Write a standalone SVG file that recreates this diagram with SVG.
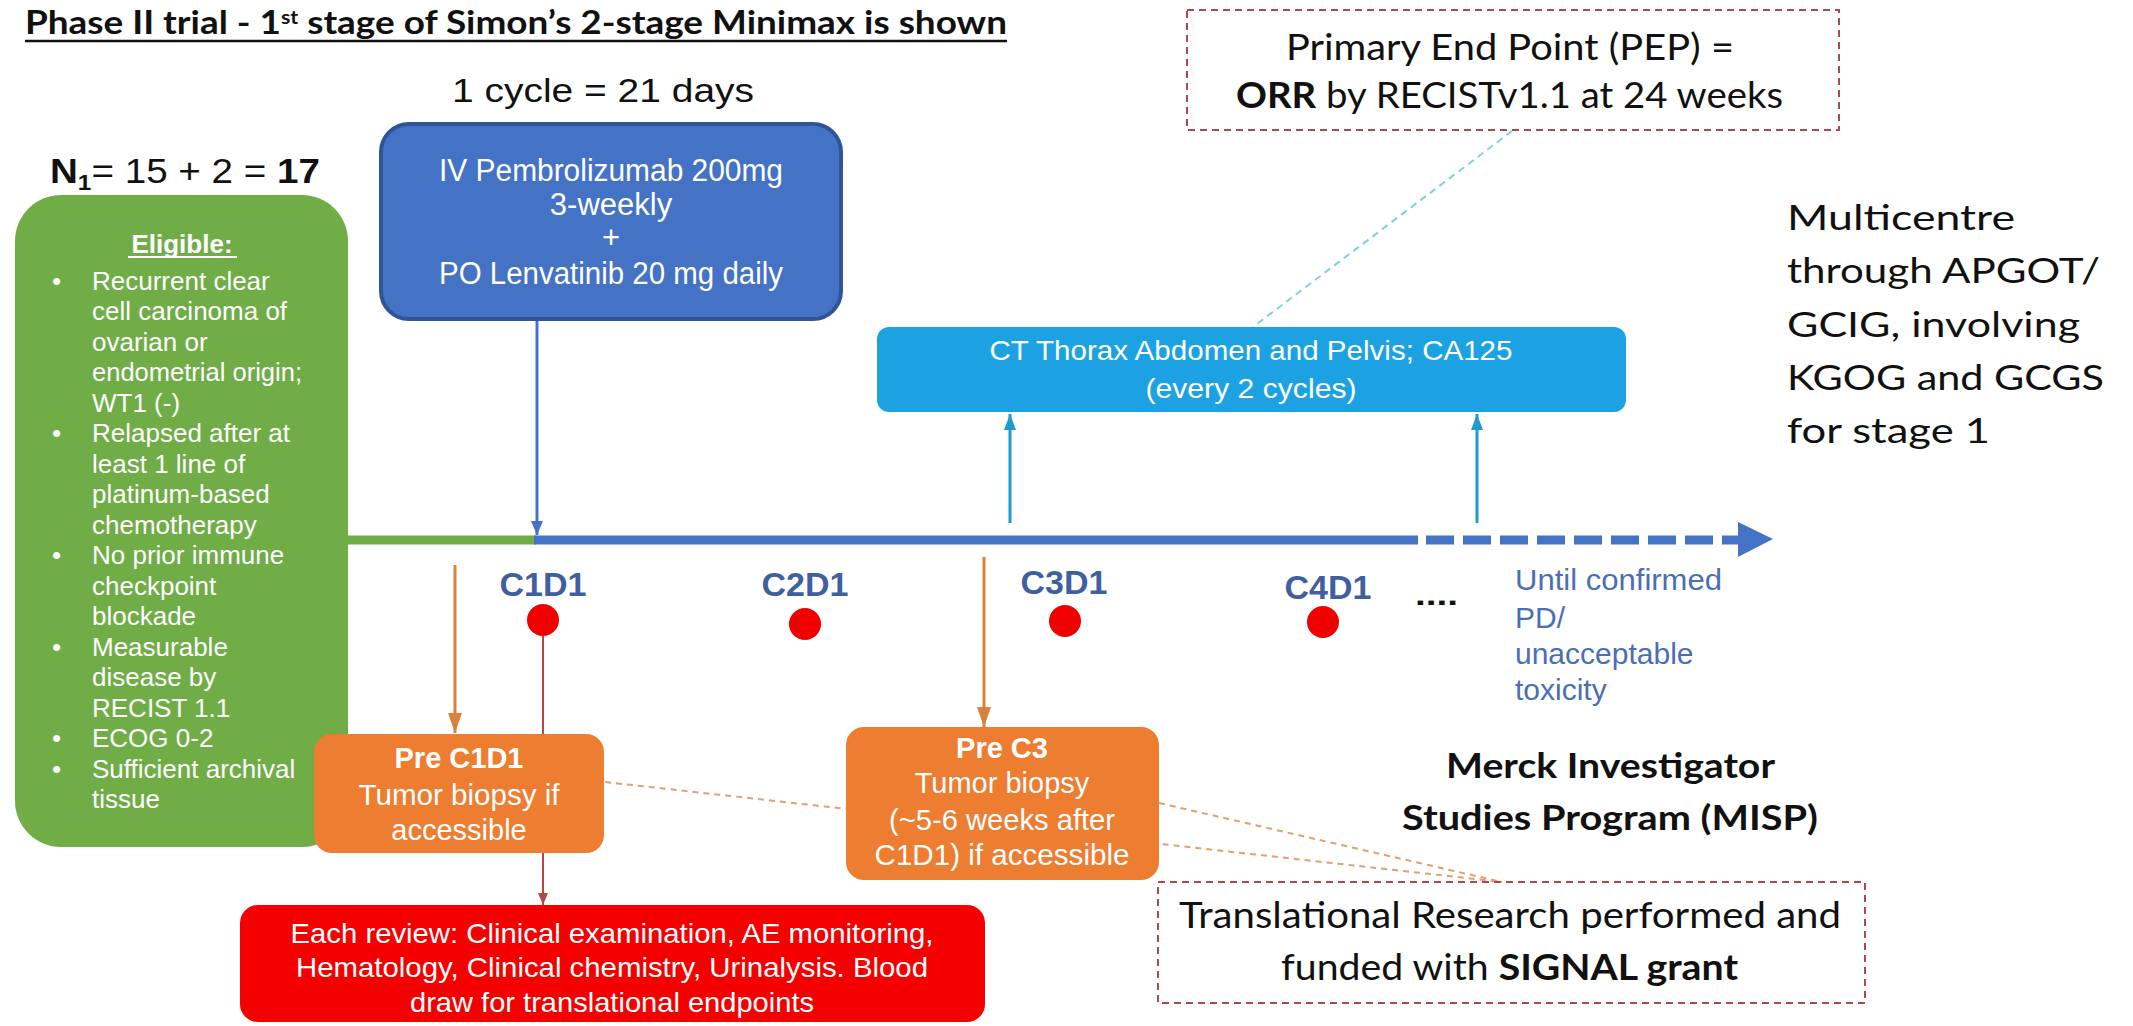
<svg xmlns="http://www.w3.org/2000/svg" width="2133" height="1026" viewBox="0 0 2133 1026">
<style>
.a{font-family:"Liberation Sans",Arial,sans-serif}
.c{font-family:Lato,"Liberation Sans",sans-serif}
.w{fill:#ffffff}
.k{fill:#111111}
.b{font-weight:bold}
.lbl{font-family:"Liberation Sans",Arial,sans-serif;font-weight:bold;font-size:34px;fill:#3F5FA0;text-anchor:middle}
.mid{text-anchor:middle}
.elig{font-family:"Liberation Sans",Arial,sans-serif;font-size:26px;fill:#ffffff}
.dash{fill:none;stroke:#A84A4A;stroke-width:2;stroke-dasharray:7 5}
</style>
<defs>
<marker id="mBlue" markerUnits="userSpaceOnUse" markerWidth="16" markerHeight="16" refX="14" refY="8" orient="auto"><path d="M0,2 L14,8 L0,14 Z" fill="#4472C4"/></marker>
<marker id="mOrange" markerUnits="userSpaceOnUse" markerWidth="22" markerHeight="18" refX="20" refY="9" orient="auto"><path d="M0,2 L20,9 L0,16 Z" fill="#D9823B"/></marker>
<marker id="mCyan" markerUnits="userSpaceOnUse" markerWidth="18" markerHeight="16" refX="16" refY="8" orient="auto"><path d="M0,2 L16,8 L0,14 Z" fill="#1F9BD1"/></marker>
<marker id="mRed" markerUnits="userSpaceOnUse" markerWidth="14" markerHeight="12" refX="12" refY="6" orient="auto"><path d="M0,1 L12,6 L0,11 Z" fill="#B5474A"/></marker>
</defs>
<rect x="0" y="0" width="2133" height="1026" fill="#ffffff"/>

<g id="title">
<text class="c b k" x="25" y="34" font-size="33" textLength="982" lengthAdjust="spacingAndGlyphs">Phase II trial - 1<tspan font-size="19" dy="-10">st</tspan><tspan dy="10"> stage of Simon’s 2-stage Minimax is shown</tspan></text>
<line x1="25" y1="41" x2="1007" y2="41" stroke="#111" stroke-width="2.5"/>
</g>

<g id="connectors">
<line x1="605" y1="782" x2="1502" y2="882" stroke="#E0A070" stroke-width="2" stroke-dasharray="6 5"/>
<line x1="1159" y1="803" x2="1502" y2="882" stroke="#E0A070" stroke-width="2" stroke-dasharray="6 5"/>
<line x1="1512" y1="131" x2="1253" y2="327" stroke="#7FD0E6" stroke-width="2" stroke-dasharray="7 5"/>
<line x1="347" y1="540" x2="536" y2="540" stroke="#70AD47" stroke-width="9"/>
<line x1="534" y1="540" x2="1418" y2="540" stroke="#4472C4" stroke-width="9"/>
<line x1="1426" y1="540" x2="1738" y2="540" stroke="#4472C4" stroke-width="9" stroke-dasharray="28 9"/>
<path d="M1738,522 L1773,539 L1738,557 Z" fill="#4472C4"/>
<line x1="537" y1="320" x2="537" y2="535" stroke="#4472C4" stroke-width="3" marker-end="url(#mBlue)"/>
<line x1="455" y1="565" x2="455" y2="733" stroke="#D9823B" stroke-width="3" marker-end="url(#mOrange)"/>
<line x1="984" y1="557" x2="984" y2="727" stroke="#D9823B" stroke-width="3" marker-end="url(#mOrange)"/>
<line x1="543" y1="630" x2="543" y2="905" stroke="#B5474A" stroke-width="2" marker-end="url(#mRed)"/>
<line x1="1010" y1="523" x2="1010" y2="414" stroke="#1F9BD1" stroke-width="3" marker-end="url(#mCyan)"/>
<line x1="1477" y1="523" x2="1477" y2="414" stroke="#1F9BD1" stroke-width="3" marker-end="url(#mCyan)"/>
</g>

<g id="n1">
<text class="a k" x="50" y="183" font-size="35" textLength="270" lengthAdjust="spacingAndGlyphs"><tspan font-weight="bold">N</tspan><tspan font-weight="bold" font-size="22" dy="7">1</tspan><tspan dy="-7">= 15 + 2 = </tspan><tspan font-weight="bold">17</tspan></text>
</g>

<g id="cycle">
<text class="a k" x="452" y="102" font-size="33" textLength="302" lengthAdjust="spacingAndGlyphs">1 cycle = 21 days</text>
</g>

<g id="eligible">
<rect x="15" y="195" width="333" height="652" rx="46" fill="#70AD47"/>
<text class="elig b" x="182" y="253" text-anchor="middle">Eligible:</text>
<line x1="128" y1="257" x2="237" y2="257" stroke="#ffffff" stroke-width="2"/>
<g class="elig">
<text x="52" y="290">•</text><text x="92" y="290">Recurrent clear</text>
<text x="92" y="320">cell carcinoma of</text>
<text x="92" y="351">ovarian or</text>
<text x="92" y="381" textLength="210" lengthAdjust="spacingAndGlyphs">endometrial origin;</text>
<text x="92" y="412">WT1 (-)</text>
<text x="52" y="442">•</text><text x="92" y="442">Relapsed after at</text>
<text x="92" y="473">least 1 line of</text>
<text x="92" y="503">platinum-based</text>
<text x="92" y="534">chemotherapy</text>
<text x="52" y="564">•</text><text x="92" y="564">No prior immune</text>
<text x="92" y="595">checkpoint</text>
<text x="92" y="625">blockade</text>
<text x="52" y="656">•</text><text x="92" y="656">Measurable</text>
<text x="92" y="686">disease by</text>
<text x="92" y="717">RECIST 1.1</text>
<text x="52" y="747">•</text><text x="92" y="747">ECOG 0-2</text>
<text x="52" y="778">•</text><text x="92" y="778">Sufficient archival</text>
<text x="92" y="808">tissue</text>
</g>
</g>

<g id="treatment">
<rect x="381" y="124" width="460" height="195" rx="28" fill="#4472C4" stroke="#2F5597" stroke-width="4"/>
<g class="a w mid" font-size="31">
<text x="611" y="181" textLength="344" lengthAdjust="spacingAndGlyphs">IV Pembrolizumab 200mg</text>
<text x="611" y="215">3-weekly</text>
<text x="611" y="248">+</text>
<text x="611" y="284" textLength="344" lengthAdjust="spacingAndGlyphs">PO Lenvatinib 20 mg daily</text>
</g>
</g>

<g id="pep">
<rect x="1187" y="10" width="652" height="120" class="dash"/>
<text class="c k" x="1286" y="60" font-size="36" textLength="448" lengthAdjust="spacingAndGlyphs">Primary End Point (PEP) =</text>
<text class="c k" x="1236" y="108" font-size="36" textLength="547" lengthAdjust="spacingAndGlyphs"><tspan font-weight="bold">ORR</tspan> by RECISTv1.1 at 24 weeks</text>
</g>

<g id="ct">
<rect x="877" y="327" width="749" height="85" rx="12" fill="#1CA2E3"/>
<text class="a w mid" x="1251" y="360" font-size="28" textLength="523" lengthAdjust="spacingAndGlyphs">CT Thorax Abdomen and Pelvis; CA125</text>
<text class="a w mid" x="1251" y="398" font-size="28" textLength="211" lengthAdjust="spacingAndGlyphs">(every 2 cycles)</text>
</g>

<g id="multicentre">
<g class="c k" font-size="35">
<text x="1787" y="230" textLength="228" lengthAdjust="spacingAndGlyphs">Multicentre</text>
<text x="1787" y="283" textLength="313" lengthAdjust="spacingAndGlyphs">through APGOT/</text>
<text x="1787" y="337" textLength="293" lengthAdjust="spacingAndGlyphs">GCIG, involving</text>
<text x="1787" y="390" textLength="317" lengthAdjust="spacingAndGlyphs">KGOG and GCGS</text>
<text x="1787" y="443" textLength="203" lengthAdjust="spacingAndGlyphs">for stage 1</text>
</g>
</g>

<g id="timeline-labels">
<text class="lbl" x="543" y="596">C1D1</text>
<text class="lbl" x="805" y="596">C2D1</text>
<text class="lbl" x="1064" y="594">C3D1</text>
<text class="lbl" x="1328" y="599">C4D1</text>
<circle cx="543" cy="620" r="16" fill="#F00000"/>
<circle cx="805" cy="624" r="16" fill="#F00000"/>
<circle cx="1065" cy="621" r="16" fill="#F00000"/>
<circle cx="1323" cy="622" r="16" fill="#F00000"/>
<text class="a b k" x="1415" y="605" font-size="30" textLength="43" lengthAdjust="spacingAndGlyphs">....</text>
</g>

<g id="until">
<g class="a" font-size="30" fill="#4A6FB5">
<text x="1515" y="590" textLength="207" lengthAdjust="spacingAndGlyphs">Until confirmed</text>
<text x="1515" y="628">PD/</text>
<text x="1515" y="664">unacceptable</text>
<text x="1515" y="700">toxicity</text>
</g>
</g>

<g id="pre-c1d1">
<rect x="314" y="734" width="290" height="119" rx="18" fill="#ED7D31"/>
<g class="a w mid" font-size="29">
<text x="459" y="768" font-weight="bold">Pre C1D1</text>
<text x="459" y="805" textLength="201" lengthAdjust="spacingAndGlyphs">Tumor biopsy if</text>
<text x="459" y="840">accessible</text>
</g>
</g>

<g id="pre-c3">
<rect x="846" y="727" width="313" height="153" rx="18" fill="#ED7D31"/>
<g class="a w mid" font-size="29">
<text x="1002" y="758" font-weight="bold">Pre C3</text>
<text x="1002" y="793">Tumor biopsy</text>
<text x="1002" y="830" textLength="226" lengthAdjust="spacingAndGlyphs">(~5-6 weeks after</text>
<text x="1002" y="865" textLength="255" lengthAdjust="spacingAndGlyphs">C1D1) if accessible</text>
</g>
</g>

<g id="review">
<rect x="240" y="905" width="745" height="117" rx="18" fill="#F50000"/>
<g class="a w mid" font-size="28">
<text x="612" y="943" textLength="643" lengthAdjust="spacingAndGlyphs">Each review: Clinical examination, AE monitoring,</text>
<text x="612" y="977" textLength="632" lengthAdjust="spacingAndGlyphs">Hematology, Clinical chemistry, Urinalysis. Blood</text>
<text x="612" y="1012" textLength="404" lengthAdjust="spacingAndGlyphs">draw for translational endpoints</text>
</g>
</g>

<g id="merck">
<text class="c b k" x="1446" y="778" font-size="35" textLength="329" lengthAdjust="spacingAndGlyphs">Merck Investigator</text>
<text class="c b k" x="1402" y="830" font-size="35" textLength="416" lengthAdjust="spacingAndGlyphs">Studies Program (MISP)</text>
</g>

<g id="translational">
<rect x="1158" y="882" width="707" height="121" class="dash"/>
<text class="c k" x="1179" y="928" font-size="36" textLength="662" lengthAdjust="spacingAndGlyphs">Translational Research performed and</text>
<text class="c k" x="1281" y="980" font-size="36" textLength="457" lengthAdjust="spacingAndGlyphs">funded with <tspan font-weight="bold">SIGNAL grant</tspan></text>
</g>
</svg>
